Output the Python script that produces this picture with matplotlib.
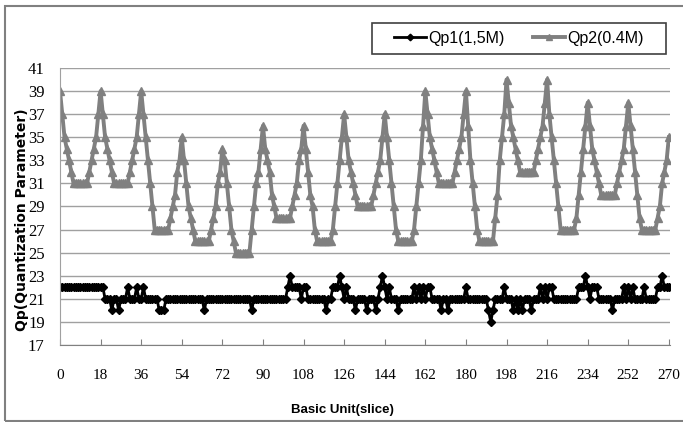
import numpy as np
import matplotlib
matplotlib.use("Agg")
from matplotlib import pyplot as plt
from matplotlib.patches import Rectangle

# Qp per basic unit (slice)
qp1 = [22, 22, 22, 22, 22, 22, 22, 22, 22, 22, 22, 22, 22, 22, 22, 22, 22, 22, 22, 22,
       21, 21, 21, 20, 21, 21, 20, 21, 21, 21,
       22, 21, 21, 21, 22, 21, 21, 22, 21, 21,
       21, 21, 21, 21, 20, 20, 20, 21, 21, 21,
       21, 21, 21, 21, 21, 21, 21, 21, 21, 21,
       21, 21, 21, 21, 20, 21, 21, 21, 21, 21,
       21, 21, 21, 21, 21, 21, 21, 21, 21, 21,
       21, 21, 21, 21, 21, 20, 21, 21, 21, 21,
       21, 21, 21, 21, 21, 21, 21, 21, 21, 21,
       21, 22, 23, 22, 22, 22, 22, 21, 22, 22,
       21, 21, 21, 21, 21, 21, 21, 21, 20, 21,
       21, 22, 22, 22, 23, 22, 21, 22, 21, 21,
       21, 20, 21, 21, 21, 21, 20, 21, 21, 21,
       20, 21, 22, 23, 22, 21, 22, 21, 21, 21,
       20, 21, 21, 21, 21, 21, 21, 22, 21, 22,
       21, 22, 21, 22, 22, 21, 21, 21, 21, 20,
       21, 21, 20, 21, 21, 21, 21, 21, 21, 21,
       22, 21, 21, 21, 21, 21, 21, 21, 21, 21,
       20, 19, 20, 21, 21, 21, 21, 22, 21, 21,
       21, 20, 21, 20, 21, 20, 21, 21, 21, 20,
       21, 21, 21, 22, 21, 22, 21, 22, 22, 21,
       21, 21, 21, 21, 21, 21, 21, 21, 21, 21,
       22, 22, 22, 23, 22, 21, 22, 22, 22, 21,
       21, 21, 21, 21, 21, 20, 21, 21, 21, 21,
       22, 21, 22, 21, 22, 21, 21, 21, 21, 22,
       21, 21, 21, 21, 21, 22, 22, 23, 22, 22,
       22]

qp2 = [39, 37, 35, 34, 33, 32, 31, 31, 31, 31, 31, 31, 31, 32, 33, 34, 35, 37,
       39, 37, 35, 34, 33, 32, 31, 31, 31, 31, 31, 31, 31, 32, 33, 34, 35, 37,
       39, 37, 35, 33, 31, 29, 27, 27, 27, 27, 27, 27, 27, 28, 29, 30, 32, 33,
       35, 33, 31, 29, 28, 27, 26, 26, 26, 26, 26, 26, 26, 27, 28, 29, 31, 32,
       34, 33, 31, 29, 27, 26, 25, 25, 25, 25, 25, 25, 25, 27, 29, 31, 32, 34,
       36, 34, 33, 32, 30, 29, 28, 28, 28, 28, 28, 28, 28, 29, 30, 31, 33, 34,
       36, 34, 32, 30, 29, 27, 26, 26, 26, 26, 26, 26, 26, 27, 29, 31, 33, 35,
       37, 35, 33, 32, 31, 30, 29, 29, 29, 29, 29, 29, 29, 30, 31, 32, 33, 35,
       37, 35, 33, 31, 29, 27, 26, 26, 26, 26, 26, 26, 26, 27, 29, 31, 33, 36,
       39, 37, 35, 34, 33, 32, 31, 31, 31, 31, 31, 31, 31, 32, 33, 34, 35, 37,
       39, 36, 33, 31, 29, 27, 26, 26, 26, 26, 26, 26, 26, 28, 30, 33, 35, 37,
       40, 38, 36, 35, 34, 33, 32, 32, 32, 32, 32, 32, 32, 33, 34, 35, 36, 38,
       40, 37, 35, 33, 31, 29, 27, 27, 27, 27, 27, 27, 27, 28, 30, 32, 34, 36,
       38, 36, 34, 33, 32, 31, 30, 30, 30, 30, 30, 30, 30, 31, 32, 33, 34, 36,
       38, 36, 34, 32, 30, 28, 27, 27, 27, 27, 27, 27, 27, 28, 29, 31, 32, 33,
       35]

slices = np.arange(len(qp1))
x_ticks = list(range(0, 271, 18))
y_ticks = list(range(17, 42, 2))

W, H = 683, 422
fig = plt.figure(figsize=(W / 100, H / 100), dpi=100)
# chart frame like the excel export
fig.patches.append(Rectangle((5 / W, 1 / H), 700 / W, 415 / H,
                             transform=fig.transFigure, fill=False,
                             edgecolor='#808080', linewidth=1.5))

ax = fig.add_axes([60 / W, 1 - 345 / H, 610 / W, 277 / H])

ax.plot(slices, qp1, color='black', linewidth=2, marker='D', markersize=4.2,
        label='Qp1(1,5M)')
ax.plot(slices, qp2, color='#808080', linewidth=2.8, marker='^', markersize=5.5,
        label='Qp2(0.4M)')

ax.set_xlim(0, 270.5)
ax.set_ylim(17, 41)
ax.set_xticks(x_ticks)
ax.set_yticks(y_ticks)
ax.set_xticklabels([str(t) for t in x_ticks], family='Liberation Serif', fontsize=11)
ax.set_yticklabels([str(t) for t in y_ticks], family='Liberation Serif', fontsize=12)
ax.tick_params(axis='x', direction='in', length=4, pad=17, color='#808080')
ax.tick_params(axis='y', length=0, pad=11)

ax.grid(axis='y', color='#a0a0a0', linewidth=1)
ax.set_axisbelow(True)
for s in ['top', 'right']:
    ax.spines[s].set_visible(False)
ax.spines['left'].set_color('#a0a0a0')
ax.spines['bottom'].set_color('#808080')

fig.text(342 / W, 1 - 410 / H, 'Basic Unit(slice)', family='Liberation Sans',
         fontweight='bold', fontsize=9.5, ha='center', va='center')
fig.text(22 / W, 1 - 220 / H, 'Qp(Quantization Parameter)', fontweight='bold',
         fontsize=10, rotation=90, ha='center', va='center')

# legend box drawn separately so the padding matches
fig.patches.append(Rectangle((372 / W, 1 - 54 / H), 294 / W, 31 / H,
                             transform=fig.transFigure, fill=False,
                             edgecolor='#404040', linewidth=1.2))
leg = ax.legend(loc='center', bbox_to_anchor=(519 / W, 1 - 38.5 / H),
                bbox_transform=fig.transFigure, ncol=2, frameon=False,
                prop={'family': 'Liberation Sans', 'size': 11.5},
                handlelength=2.0, columnspacing=1.8, borderpad=0,
                handletextpad=0.15, markerscale=0.8)

fig.savefig('out.png', dpi=100)
